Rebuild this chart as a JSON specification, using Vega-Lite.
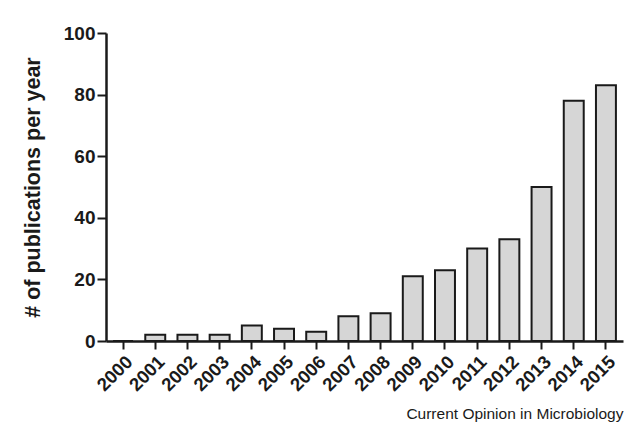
{
  "$schema": "https://vega.github.io/schema/vega-lite/v6.json",
  "width": 517,
  "height": 308,
  "autosize": {"type": "none"},
  "padding": {"left": 106, "top": 33, "right": 15, "bottom": 86},
  "background": "white",
  "config": {
    "view": {"stroke": null},
    "font": "Liberation Sans",
    "axis": {"grid": false, "domainColor": "#1a1a1a", "tickColor": "#1a1a1a", "labelColor": "#1a1a1a", "titleColor": "#1a1a1a"}
  },
  "data": {
    "values": [
      {"year": "2000", "n": 0},
      {"year": "2001", "n": 2},
      {"year": "2002", "n": 2},
      {"year": "2003", "n": 2},
      {"year": "2004", "n": 5},
      {"year": "2005", "n": 4},
      {"year": "2006", "n": 3},
      {"year": "2007", "n": 8},
      {"year": "2008", "n": 9},
      {"year": "2009", "n": 21},
      {"year": "2010", "n": 23},
      {"year": "2011", "n": 30},
      {"year": "2012", "n": 33},
      {"year": "2013", "n": 50},
      {"year": "2014", "n": 78},
      {"year": "2015", "n": 83}
    ]
  },
  "mark": {"type": "bar", "fill": "#d6d6d6", "stroke": "#1a1a1a", "strokeWidth": 2},
  "encoding": {
    "x": {
      "field": "year", "type": "ordinal", "sort": null,
      "scale": {"paddingInner": 0.38, "paddingOuter": 0.22},
      "axis": {
        "title": "Current Opinion in Microbiology",
        "titleAnchor": "end", "titleFontWeight": "normal", "titleFontSize": 15.5, "titlePadding": 12,
        "labelAngle": -45, "labelFontSize": 18.5, "labelFontWeight": "bold",
        "domainWidth": 2.5, "tickWidth": 2, "tickSize": 8, "labelPadding": 3
      }
    },
    "y": {
      "field": "n", "type": "quantitative",
      "scale": {"domain": [0, 100]},
      "axis": {
        "title": "# of publications per year",
        "titleFontSize": 21.5, "titleFontWeight": "bold", "titlePadding": 19,
        "values": [0, 20, 40, 60, 80, 100],
        "labelFontSize": 19, "labelFontWeight": "bold",
        "domainWidth": 2.5, "tickWidth": 2, "tickSize": 9, "labelPadding": 2
      }
    }
  }
}
